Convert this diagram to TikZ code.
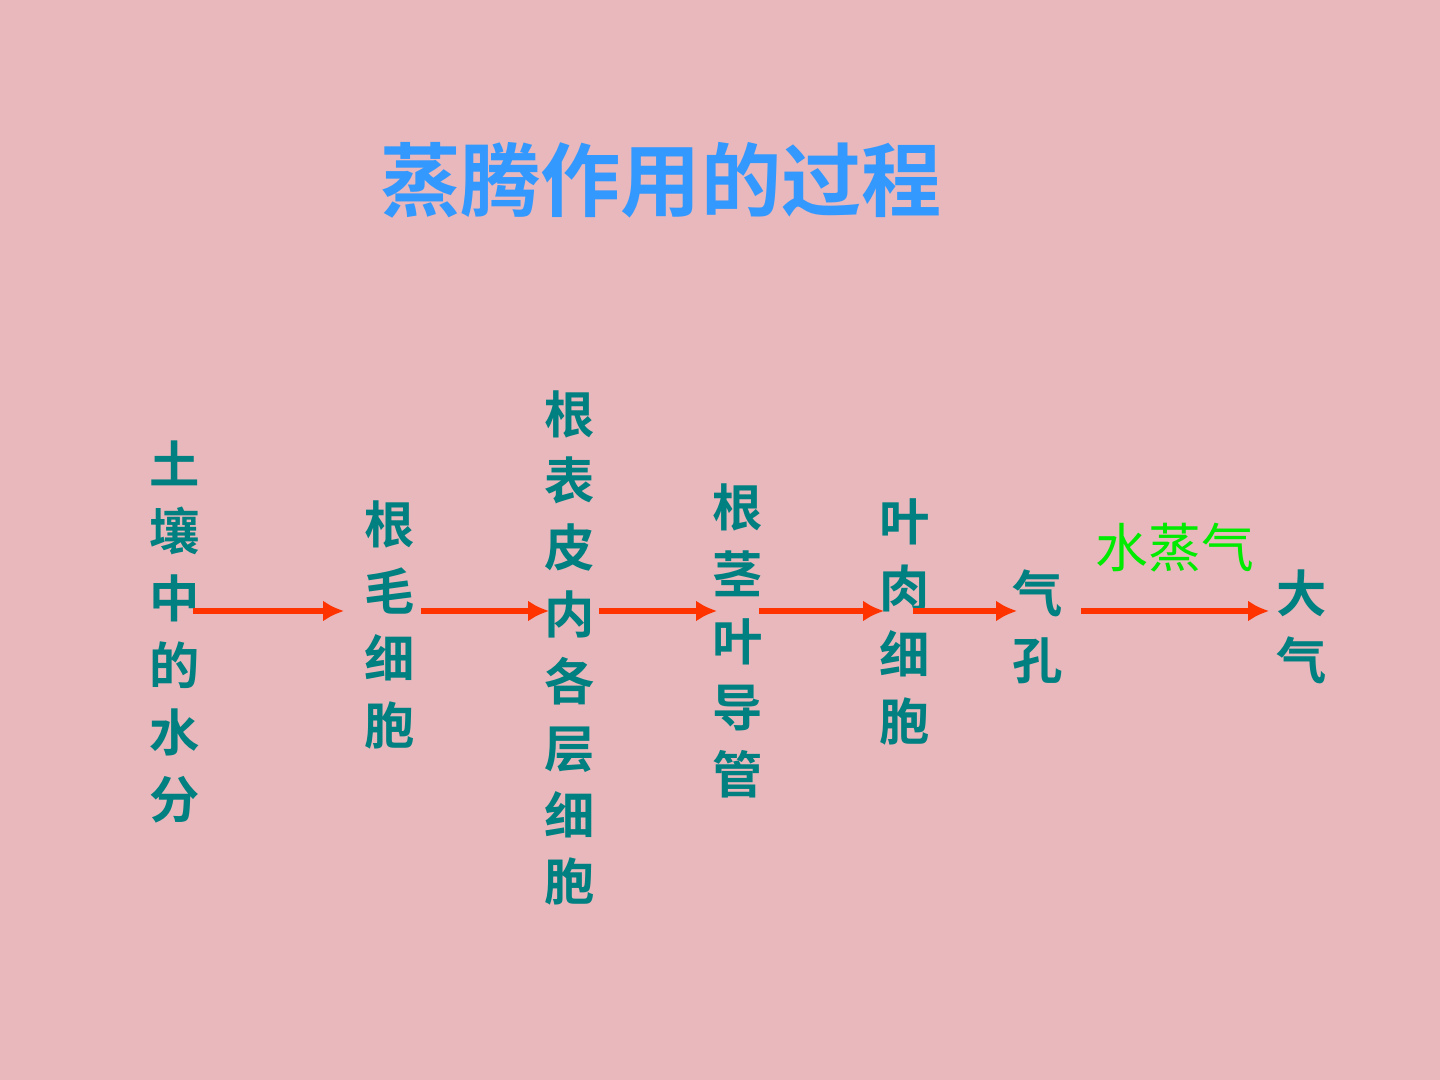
\documentclass[tikz,border=0pt]{standalone}
\usepackage{fontspec}
\newfontfamily\cjk{Noto Sans CJK SC}
\newfontfamily\cjkbold{Noto Sans CJK SC Bold}
\usetikzlibrary{calc}
\definecolor{bgpink}{RGB}{232,184,188}
\definecolor{tealtext}{RGB}{0,128,128}
\definecolor{titleblue}{RGB}{51,153,255}
\definecolor{steamgreen}{RGB}{0,235,0}
\definecolor{arrowred}{RGB}{255,51,0}
\tikzset{
  column/.style={inner sep=0pt, align=center, text=tealtext, font=\cjkbold\fontsize{14.3}{19}\selectfont},
  flow/.style={draw=arrowred, line width=1.5pt, -{Latex[length=6pt,width=6pt]}}
}
\usetikzlibrary{arrows.meta}
\begin{document}
\begin{tikzpicture}[x=0.01cm, y=-0.01cm]
    % Hintergrund
    \fill[bgpink] (0,0) rectangle (1440,1080);
    \useasboundingbox (0,0) rectangle (1440,1080);

    % Titel
    \node[text=titleblue, font=\cjkbold\fontsize{22.8}{26}\selectfont] (title) at (661,180) {蒸腾作用的过程};

    % Stationen
    \node[column] (soil) at (175,632) {土\\壤\\中\\的\\水\\分};
    \node[column] (hair) at (390,625) {根\\毛\\细\\胞};
    \node[column] (epi) at (570,648) {根\\表\\皮\\内\\各\\层\\细\\胞};
    \node[column] (vessel) at (738,641) {根\\茎\\叶\\导\\管};
    \node[column] (meso) at (905,622) {叶\\肉\\细\\胞};
    \node[column] (stoma) at (1038,627) {气\\孔};
    \node[column] (air) at (1302,627) {大\\气};
    \node[inner sep=0pt, text=steamgreen, font=\cjk\fontsize{15}{18}\selectfont] (steam) at (1175,548) {水蒸气};

    % Pfeile
    \coordinate (row) at (0,611);
    \draw[flow] ($(soil.east |- row)+(-8,0)$) -- ($(hair.west |- row)+(-20,0)$);
    \draw[flow] ($(hair.east |- row)+(5,0)$) -- ($(epi.west |- row)+(5,0)$);
    \draw[flow] ($(epi.east |- row)+(3,0)$) -- ($(vessel.west |- row)+(5,0)$);
    \draw[flow] ($(vessel.east |- row)+(-5,0)$) -- ($(meso.west |- row)+(5,0)$);
    \draw[flow] ($(meso.east |- row)+(-18,0)$) -- ($(stoma.west |- row)+(5,0)$);
    \draw[flow] ($(stoma.east |- row)+(17,0)$) -- ($(air.west |- row)+(-7,0)$);
\end{tikzpicture}
\end{document}
